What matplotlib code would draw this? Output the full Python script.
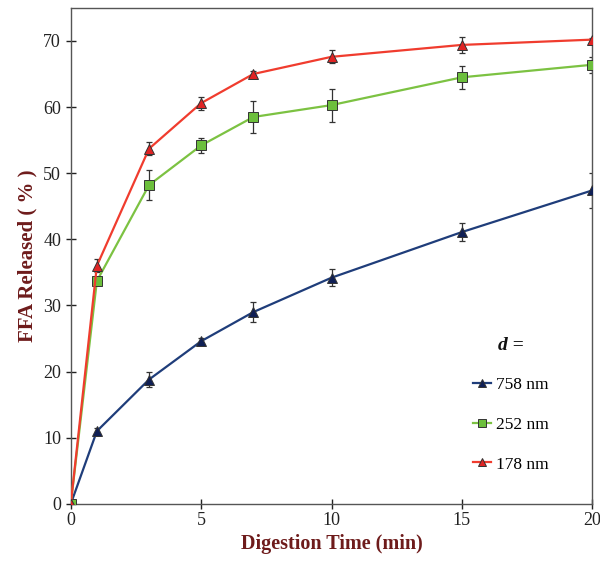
import matplotlib
matplotlib.use("Agg")
import matplotlib.pyplot as plt

plt.rcParams["font.family"] = ["Liberation Serif", "DejaVu Serif"]

# data
time_min = [0, 1, 3, 5, 7, 10, 15, 20]

ffa_758 = [0, 11.0, 18.8, 24.6, 29.0, 34.2, 41.1, 47.4]
err_758 = [0, 0.4, 1.2, 0.5, 1.5, 1.3, 1.3, 2.6]

ffa_252 = [0, 33.7, 48.2, 54.2, 58.5, 60.3, 64.5, 66.4]
err_252 = [0, 0.6, 2.3, 1.2, 2.4, 2.5, 1.7, 1.2]

ffa_178 = [0, 36.0, 53.7, 60.6, 65.0, 67.6, 69.4, 70.2]
err_178 = [0, 1.0, 1.0, 1.0, 0.4, 1.0, 1.2, 0.3]

labels = ["758 nm", "252 nm", "178 nm"]
x_ticks = [0, 5, 10, 15, 20]
y_ticks = [0, 10, 20, 30, 40, 50, 60, 70]

label_color = "#6e1b1b"

fig = plt.figure(figsize=(6.0, 5.63), dpi=100)
ax = fig.add_axes([0.118, 0.105, 0.869, 0.881])

series = [
    (ffa_758, err_758, labels[0], "#1f3d7a", "#0f1f55", "^", 7),
    (ffa_252, err_252, labels[1], "#7cc242", "#6cbf3c", "s", 7),
    (ffa_178, err_178, labels[2], "#f03c2e", "#e02424", "^", 7),
]

handles = []
for y, e, lab, lc, fc, mk, ms in series:
    ax.errorbar(time_min, y, yerr=e, fmt="none", ecolor="#333333",
                elinewidth=0.9, capsize=2, capthick=0.9, zorder=2)
    h, = ax.plot(time_min, y, color=lc, lw=1.6, marker=mk, ms=ms,
                 markerfacecolor=fc, markeredgecolor="#333333",
                 markeredgewidth=0.7, label=lab, zorder=3)
    handles.append(h)

ax.set_xlim(0, 20)
ax.set_ylim(0, 75)
ax.set_xticks(x_ticks)
ax.set_yticks(y_ticks)
ax.tick_params(axis="both", direction="inout", length=7, width=1,
               labelsize=13, colors="#222222")
ax.tick_params(axis="x", pad=2)

for side in ["left", "bottom", "top", "right"]:
    ax.spines[side].set_color("#555555")
    ax.spines[side].set_linewidth(1.0)

ax.set_xlabel("Digestion Time (min)", fontsize=14.5, fontweight="bold",
              color=label_color, labelpad=4)
ax.set_ylabel("FFA Released ( % )", fontsize=15, fontweight="bold",
              color=label_color, labelpad=4)

leg = ax.legend(handles=handles, loc="center left",
                bbox_to_anchor=(0.741, 0.20), frameon=False,
                fontsize=12.5, handlelength=1.05, handletextpad=0.3,
                markerscale=0.75, labelspacing=1.35, title="d =",
                title_fontproperties={"weight": "bold", "style": "italic",
                                      "size": 14})
leg._legend_box.align = "center"
leg.get_title().set_color("#111111")

fig.savefig("out.png", dpi=100)
